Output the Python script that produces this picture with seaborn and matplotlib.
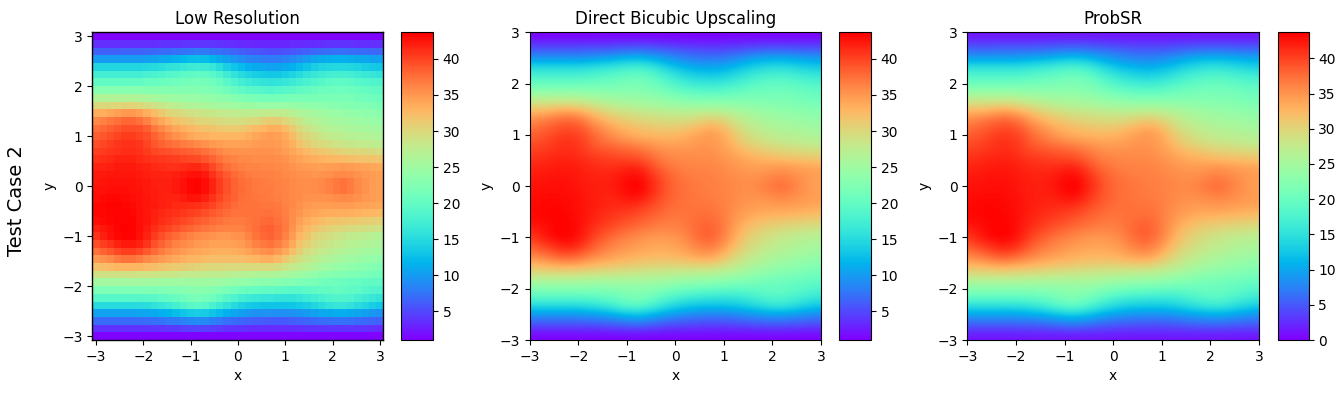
import numpy as np
import matplotlib
matplotlib.use("Agg")
import matplotlib.pyplot as plt
import seaborn as sns

titles = ["Low Resolution", "Direct Bicubic Upscaling", "ProbSR"]
tick_vals = [-3, -2, -1, 0, 1, 2, 3]
tick_labels = ["\u22123", "\u22122", "\u22121", "0", "1", "2", "3"]
cbar_ticks_low = [5, 10, 15, 20, 25, 30, 35, 40]
cbar_ticks_sr = [0, 5, 10, 15, 20, 25, 30, 35, 40]
vmax = 43.7
vmin_low = 1.0
vmin_sr = 0.0

# 40x40 field, top row is y=3, left column is x=-3
low_res = np.array([
    [1.2] * 40,
    [3.6, 3.6, 3.6, 3.6, 3.6, 3.6, 3.6, 3.6, 3.6, 3.7, 3.7, 3.8, 3.9, 4.0, 4.0, 4.0, 3.9, 3.7, 3.6, 3.4, 3.3, 3.2, 3.1, 3.1, 3.1, 3.1, 3.1, 3.2, 3.3, 3.4, 3.5, 3.6, 3.7, 3.7, 3.7, 3.7, 3.6, 3.6, 3.6, 3.6],
    [6.5, 6.5, 6.5, 6.5, 6.6, 6.6, 6.6, 6.7, 6.8, 6.9, 7.0, 7.2, 7.4, 7.6, 7.7, 7.7, 7.5, 7.2, 6.9, 6.6, 6.3, 6.0, 5.8, 5.6, 5.5, 5.5, 5.6, 5.8, 6.1, 6.4, 6.7, 6.9, 7.1, 7.2, 7.2, 7.1, 7.0, 6.9, 6.8, 6.8],
    [10, 10, 10, 10, 10, 10, 10, 10.2, 10.5, 10.8, 11, 11.5, 12, 12.3, 12.5, 12.3, 11.8, 11, 10.3, 9.6, 9, 8.5, 8.2, 8, 8, 8, 8.3, 8.8, 9.3, 10, 10.6, 11, 11.3, 11.5, 11.4, 11.2, 11, 10.8, 10.5, 10.4],
    [14.5, 14.5, 14.5, 14.5, 14.5, 14.5, 14.5, 14.7, 15, 15.3, 15.7, 16, 16.5, 16.8, 17, 16.8, 16.2, 15.2, 14, 13, 12.2, 11.5, 11, 10.7, 10.5, 10.6, 11, 11.5, 12.2, 13, 13.7, 14.2, 14.6, 14.8, 14.8, 14.6, 14.2, 13.8, 13.5, 13.3],
    [17.5, 17.5, 17.5, 17.5, 17.5, 17.5, 17.5, 17.7, 18, 18.3, 18.7, 19, 19.5, 19.8, 20, 19.8, 19.2, 18.2, 17, 16, 15, 14.3, 13.8, 13.4, 13.2, 13.3, 13.7, 14.3, 15, 15.8, 16.4, 17, 17.4, 17.6, 17.6, 17.4, 17, 16.6, 16.2, 16],
    [20, 20, 20, 20, 20, 20, 20, 20.2, 20.4, 20.6, 20.8, 21, 21.3, 21.5, 21.6, 21.5, 21, 20.2, 19.2, 18.3, 17.5, 16.8, 16.3, 16, 15.8, 15.9, 16.2, 16.8, 17.4, 18, 18.6, 19, 19.4, 19.6, 19.6, 19.4, 19, 18.7, 18.4, 18.2],
    [23, 23, 23, 23, 23, 23, 23, 22.8, 22.8, 22.8, 22.7, 22.7, 22.7, 22.7, 22.7, 22.5, 22.2, 21.7, 21, 20.4, 19.8, 19.3, 18.9, 18.7, 18.6, 18.7, 19, 19.3, 19.7, 20.1, 20.5, 20.7, 20.8, 20.9, 20.9, 20.8, 20.6, 20.3, 20, 19.8],
    [26.5, 26.5, 26.5, 26.5, 26.5, 26.5, 26.3, 26, 25.6, 25.3, 25, 24.8, 24.6, 24.5, 24.4, 24.2, 24, 23.6, 23.2, 22.8, 22.4, 22, 21.7, 21.5, 21.5, 21.5, 21.6, 21.7, 21.8, 22, 22, 22, 22, 21.9, 21.8, 21.7, 21.5, 21.3, 21, 20.8],
    [30, 30, 30, 30.3, 30.5, 30.5, 30, 29.5, 29, 28.3, 27.8, 27.2, 26.8, 26.5, 26.2, 26, 25.8, 25.5, 25.2, 25, 24.8, 24.6, 24.5, 24.5, 24.5, 24.5, 24.4, 24.2, 24, 23.8, 23.6, 23.4, 23.2, 23, 22.8, 22.7, 22.5, 22.4, 22.2, 22],
    [33.5, 33.5, 34, 34.5, 35, 35, 34.5, 33.5, 32.5, 31.5, 30.5, 30, 29.5, 29, 28.7, 28.4, 28.2, 28, 27.8, 27.6, 27.5, 27.5, 27.6, 27.8, 28, 27.8, 27.5, 27, 26.5, 26, 25.5, 25, 24.7, 24.4, 24.2, 24, 23.8, 23.6, 23.4, 23.2],
    [36, 36.5, 37, 37.5, 38, 38, 37.5, 36.5, 35, 34, 33, 32, 31.5, 31, 30.5, 30.2, 30, 29.7, 29.5, 29.5, 29.5, 29.7, 30, 30.7, 31.2, 31, 30.3, 29.3, 28.2, 27.3, 26.7, 26.2, 25.8, 25.5, 25.2, 25, 24.8, 24.6, 24.4, 24.2],
    [37.5, 38, 38.5, 39, 39.5, 39.5, 39.2, 38.5, 37, 36, 35, 34, 33.3, 32.8, 32.3, 32, 31.7, 31.5, 31.3, 31.3, 31.5, 32, 32.5, 33, 33.5, 33.3, 32.5, 31.3, 29.8, 28.7, 28, 27.3, 26.8, 26.5, 26.2, 26, 25.8, 25.6, 25.4, 25.2],
    [38.5, 39, 39.5, 40, 40.5, 40.5, 40, 39.5, 38.3, 37.2, 36.3, 35.5, 34.7, 34, 33.5, 33.2, 33, 32.8, 32.8, 32.8, 33, 33.5, 34, 34.5, 34.8, 34.5, 33.7, 32.5, 31, 30, 29.2, 28.5, 28, 27.5, 27.2, 27, 26.8, 26.6, 26.4, 26.2],
    [39.5, 39.8, 40.2, 40.7, 41, 41, 40.7, 40, 39, 38.2, 37.7, 37.2, 36.8, 36.4, 35.9, 35.5, 35, 34.6, 34.3, 34.2, 34.3, 34.4, 34.7, 35, 35, 34.7, 34.1, 33.2, 32, 31, 30.3, 29.7, 29.2, 28.8, 28.5, 28.3, 28, 27.8, 27.6, 27.5],
    [40.3, 40.5, 40.8, 41, 41.2, 41.2, 41, 40.5, 39.8, 39.4, 39.2, 38.9, 38.6, 38.3, 38, 37.4, 36.8, 36.1, 35.6, 35.4, 35.3, 35.3, 35.4, 35.4, 35.4, 35.1, 34.6, 34, 33.3, 32.6, 32.1, 31.6, 31.2, 30.8, 30.5, 30.3, 30.1, 29.9, 29.7, 29.5],
    [41, 41.2, 41.5, 41.7, 41.8, 41.8, 41.5, 41.1, 40.8, 40.6, 40.4, 40.2, 40, 39.8, 39.6, 39, 38.2, 37.3, 36.6, 36.2, 36, 35.9, 35.8, 35.8, 35.8, 35.6, 35.2, 34.8, 34.3, 33.8, 33.4, 33.1, 32.8, 32.6, 32.4, 32.2, 32, 31.9, 31.7, 31.6],
    [41.7, 41.8, 42, 42.2, 42.2, 42.2, 42, 41.7, 41.4, 41.2, 41.1, 41.1, 41.3, 41.6, 41.6, 41, 39.8, 38.6, 37.6, 37, 36.6, 36.3, 36.2, 36.1, 36.1, 36, 35.7, 35.3, 35, 34.8, 34.6, 34.5, 34.6, 34.8, 34.9, 34.7, 34.4, 34.2, 34, 33.8],
    [42.2, 42.3, 42.4, 42.5, 42.5, 42.5, 42.3, 42, 41.8, 41.7, 41.7, 41.9, 42.3, 42.6, 42.7, 42.2, 41, 39.8, 38.7, 37.8, 37.2, 36.8, 36.6, 36.5, 36.4, 36.2, 36, 35.7, 35.4, 35.2, 35.1, 35.2, 35.5, 35.9, 36, 35.7, 35.3, 35, 34.7, 34.5],
    [42.5, 42.6, 42.7, 42.8, 42.8, 42.7, 42.5, 42.2, 42, 41.9, 42, 42.2, 42.7, 43.3, 43.5, 43, 41.7, 40.5, 39.2, 38.2, 37.6, 37.2, 36.9, 36.7, 36.6, 36.4, 36.2, 36, 35.8, 35.6, 35.7, 36, 36.5, 37, 37.2, 36.8, 36, 35.3, 34.8, 34.4],
    [42.7, 42.8, 42.9, 42.9, 42.9, 42.8, 42.6, 42.3, 42.1, 42, 42, 42.2, 42.7, 43.2, 43.5, 43, 41.7, 40.5, 39.2, 38.3, 37.7, 37.3, 37, 36.8, 36.7, 36.5, 36.3, 36, 35.8, 35.6, 35.7, 36, 36.5, 37, 37.2, 36.8, 36, 35.3, 34.8, 34.4],
    [43, 43.1, 43.2, 43.2, 43.1, 43, 42.8, 42.4, 42.1, 41.9, 41.8, 41.8, 42.1, 42.6, 42.6, 42, 41, 39.9, 39, 38.2, 37.6, 37.3, 37.1, 36.9, 36.8, 36.6, 36.3, 36, 35.7, 35.4, 35.3, 35.3, 35.5, 35.8, 35.9, 35.7, 35.4, 35, 34.7, 34.5],
    [43.2, 43.3, 43.4, 43.4, 43.3, 43.1, 42.8, 42.5, 42.2, 41.9, 41.7, 41.5, 41.4, 41.3, 41.1, 40.6, 39.9, 39.1, 38.4, 37.8, 37.5, 37.3, 37.2, 37.1, 37.1, 36.9, 36.5, 35.9, 35.4, 35, 34.8, 34.6, 34.6, 34.7, 34.8, 34.7, 34.5, 34.3, 34.1, 33.9],
    [43.2, 43.3, 43.4, 43.4, 43.4, 43.2, 42.9, 42.5, 42, 41.6, 41.2, 40.9, 40.6, 40.3, 39.9, 39.4, 38.8, 38.2, 37.7, 37.3, 37.2, 37.2, 37.3, 37.4, 37.4, 37.1, 36.6, 35.8, 35.1, 34.5, 34.1, 33.8, 33.6, 33.5, 33.4, 33.3, 33.1, 33, 32.8, 32.6],
    [43, 43.1, 43.3, 43.5, 43.5, 43.4, 43, 42.4, 41.8, 41.2, 40.7, 40.2, 39.7, 39.3, 38.8, 38.3, 37.8, 37.4, 37, 36.8, 36.8, 37.1, 37.5, 37.8, 37.9, 37.5, 36.7, 35.6, 34.5, 33.6, 32.9, 32.4, 32, 31.8, 31.6, 31.4, 31.2, 31, 30.8, 30.6],
    [42, 42.5, 43, 43.5, 43.6, 43.5, 43, 42.1, 41.2, 40.5, 39.9, 39.2, 38.6, 38.1, 37.6, 37.1, 36.7, 36.4, 36.2, 36.2, 36.4, 36.9, 37.6, 38.2, 38.4, 37.8, 36.8, 35.3, 33.8, 32.6, 31.7, 31.1, 30.6, 30.2, 29.9, 29.6, 29.4, 29.2, 29, 28.8],
    [41, 42, 42.7, 43.3, 43.5, 43.4, 42.8, 41.8, 40.5, 39.5, 38.5, 37.8, 37, 36.5, 36, 35.6, 35.2, 35, 35, 35.2, 35.5, 36.3, 37.2, 38, 38.3, 37.6, 36.5, 34.8, 33, 31.7, 30.5, 29.8, 29.2, 28.7, 28.2, 27.8, 27.5, 27.2, 27, 26.8],
    [39.5, 40.3, 41, 41.7, 42.3, 42.3, 41.7, 40.7, 39.3, 38.2, 37.3, 36.5, 36, 35.5, 35, 34.7, 34.3, 34.2, 34.2, 34.4, 34.8, 35.5, 36.4, 37, 37.3, 36.6, 35.4, 33.7, 32, 30.8, 29.8, 29, 28.4, 27.8, 27.4, 27, 26.7, 26.4, 26.2, 26],
    [37.5, 38.2, 39, 39.8, 40.3, 40.3, 39.7, 38.8, 37.7, 36.7, 36, 35.3, 34.8, 34.3, 34, 33.7, 33.4, 33.3, 33.3, 33.5, 33.8, 34.3, 35, 35.5, 35.7, 35, 33.8, 32.2, 30.8, 29.5, 28.7, 28, 27.4, 26.9, 26.5, 26.1, 25.8, 25.5, 25.2, 25],
    [35, 35.5, 36, 36.8, 37.2, 37.2, 36.8, 36, 35.3, 34.7, 34.2, 33.7, 33.3, 33, 32.7, 32.4, 32.2, 32.2, 32.2, 32.2, 32.3, 32.6, 33, 33.2, 33.2, 32.6, 31.5, 30.2, 29.2, 28.2, 27.5, 26.8, 26.3, 25.8, 25.3, 25, 24.6, 24.3, 24, 23.8],
    [32, 32.2, 32.5, 32.8, 33, 33, 32.8, 32.5, 32.2, 31.8, 31.5, 31.2, 31, 30.8, 30.5, 30.2, 30, 29.9, 29.8, 29.8, 29.8, 29.8, 29.8, 29.8, 29.7, 29.3, 28.6, 28, 27.3, 26.6, 25.9, 25.3, 24.8, 24.3, 24, 23.6, 23.3, 23, 22.7, 22.5],
    [29, 29, 29, 29, 29, 29, 28.8, 28.7, 28.6, 28.5, 28.4, 28.2, 28, 27.8, 27.7, 27.6, 27.5, 27.4, 27.2, 27, 26.8, 26.6, 26.5, 26.3, 26.2, 26, 25.7, 25.3, 24.8, 24.3, 23.8, 23.3, 23, 22.7, 22.4, 22.2, 22, 21.7, 21.4, 21.2],
    [25.5, 25.5, 25.5, 25.5, 25.5, 25.5, 25.4, 25.3, 25.2, 25, 25, 25, 25, 25, 25, 25, 25, 24.8, 24.5, 24.2, 24, 23.7, 23.5, 23.3, 23.2, 23, 22.8, 22.5, 22.2, 22, 21.7, 21.3, 21, 20.8, 20.6, 20.4, 20.2, 20, 19.8, 19.6],
    [22.3, 22.3, 22.3, 22.3, 22.3, 22.3, 22.3, 22.3, 22.3, 22.4, 22.5, 22.6, 22.9, 23.1, 23.2, 23.1, 22.8, 22.3, 21.8, 21.3, 20.8, 20.4, 20.2, 20, 19.9, 19.7, 19.5, 19.3, 19.3, 19.4, 19.6, 19.9, 20.1, 20.2, 20.1, 19.8, 19.4, 19, 18.6, 18.2],
    [19, 19, 19, 19, 19, 19, 19, 19.1, 19.3, 19.6, 20, 20.4, 21, 21.6, 21.8, 21.5, 20.9, 20, 19, 18.2, 17.5, 17, 16.6, 16.3, 16.2, 16, 15.9, 16, 16.3, 16.7, 17.2, 17.8, 18.3, 18.6, 18.6, 18.2, 17.6, 17, 16.5, 16],
    [15, 15, 15, 15, 15, 15, 15.1, 15.3, 15.7, 16.2, 16.8, 17.6, 18.6, 19.2, 19.4, 19, 18, 17, 15.9, 15, 14.1, 13.6, 13.2, 13, 12.9, 12.9, 12.9, 13.1, 13.5, 14, 14.6, 15.3, 15.9, 16.2, 16.2, 15.8, 15.1, 14.4, 13.8, 13.3],
    [10.5, 10.5, 10.5, 10.5, 10.5, 10.5, 10.6, 10.8, 11, 11.4, 11.8, 12.4, 13, 13.6, 13.8, 13.6, 13, 12.2, 11.4, 10.7, 10.2, 9.8, 9.5, 9.3, 9.2, 9.1, 9.2, 9.3, 9.6, 10, 10.4, 10.7, 11, 11.2, 11.2, 11, 10.6, 10.2, 9.8, 9.5],
    [7, 7, 7, 7, 7, 7, 7, 7.1, 7.2, 7.4, 7.7, 8, 8.4, 8.8, 9, 8.8, 8.3, 7.8, 7.3, 6.9, 6.6, 6.4, 6.2, 6.1, 6, 6, 6, 6.2, 6.4, 6.6, 6.9, 7.1, 7.3, 7.4, 7.4, 7.2, 7, 6.8, 6.6, 6.5],
    [3.8, 3.8, 3.8, 3.8, 3.8, 3.8, 3.8, 3.9, 3.9, 4, 4.1, 4.2, 4.4, 4.6, 4.7, 4.6, 4.4, 4.2, 4, 3.8, 3.7, 3.6, 3.5, 3.5, 3.4, 3.4, 3.4, 3.5, 3.6, 3.7, 3.8, 3.9, 4, 4, 4, 3.9, 3.8, 3.7, 3.6, 3.5],
    [1.2] * 40,
])

W, H = 1344, 393
# pixel boxes (left, right) for each panel and colorbar
panels = [(92.3, 383.5, 401, 433), (529.7, 821, 839, 871), (967.3, 1259, 1277.5, 1308.5)]
top, bottom = 32.3, 340


def box(x0, x1):
    return [x0 / W, 1 - bottom / H, (x1 - x0) / W, (bottom - top) / H]


fig = plt.figure(figsize=(W / 100, H / 100), dpi=100)

# low res panel, cells stick out half a pixel past +-3
ax = fig.add_axes(box(panels[0][0], panels[0][1]))
cax = fig.add_axes(box(panels[0][2], panels[0][3]))
sns.heatmap(low_res, ax=ax, cbar_ax=cax, cmap="rainbow", vmin=vmin_low, vmax=vmax,
            xticklabels=False, yticklabels=False, square=False)
half = 3 + 3 / 39
cell = 2 * half / 40
ax.set_xticks([(t + half) / cell for t in tick_vals])
ax.set_xticklabels(tick_labels, rotation=0)
ax.set_yticks([(half - t) / cell for t in tick_vals])
ax.set_yticklabels(tick_labels, rotation=0)
ax.tick_params(length=3.5, width=0.8, labelsize=10, left=True, bottom=True)
for s in ax.spines.values():
    s.set_visible(True)
    s.set_linewidth(1.0)
cbar = ax.collections[0].colorbar
cbar.set_ticks(cbar_ticks_low)
cbar.outline.set_visible(True)
cbar.outline.set_linewidth(0.8)
cax.tick_params(length=3.5, width=0.8, labelsize=10)

# the two upscaled panels
main_axes = [ax]
for i in [1, 2]:
    ax_i = fig.add_axes(box(panels[i][0], panels[i][1]))
    cax_i = fig.add_axes(box(panels[i][2], panels[i][3]))
    vmin = vmin_low if i == 1 else vmin_sr
    im = ax_i.imshow(low_res, cmap="rainbow", vmin=vmin, vmax=vmax, extent=[-3, 3, -3, 3],
                     interpolation="bicubic", aspect="auto")
    cb = fig.colorbar(im, cax=cax_i)
    cb.set_ticks(cbar_ticks_low if i == 1 else cbar_ticks_sr)
    ax_i.set_xticks(tick_vals)
    ax_i.set_yticks(tick_vals)
    main_axes.append(ax_i)

for i, a in enumerate(main_axes):
    a.set_title(titles[i], fontsize=12)
    a.set_xlabel("x", fontsize=10)
    a.set_ylabel("y", fontsize=10)

fig.text(17 / W, 1 - 201 / H, "Test Case 2", rotation=90, fontsize=14, ha="center", va="center")

fig.savefig("out.png", dpi=100)
plt.close()
